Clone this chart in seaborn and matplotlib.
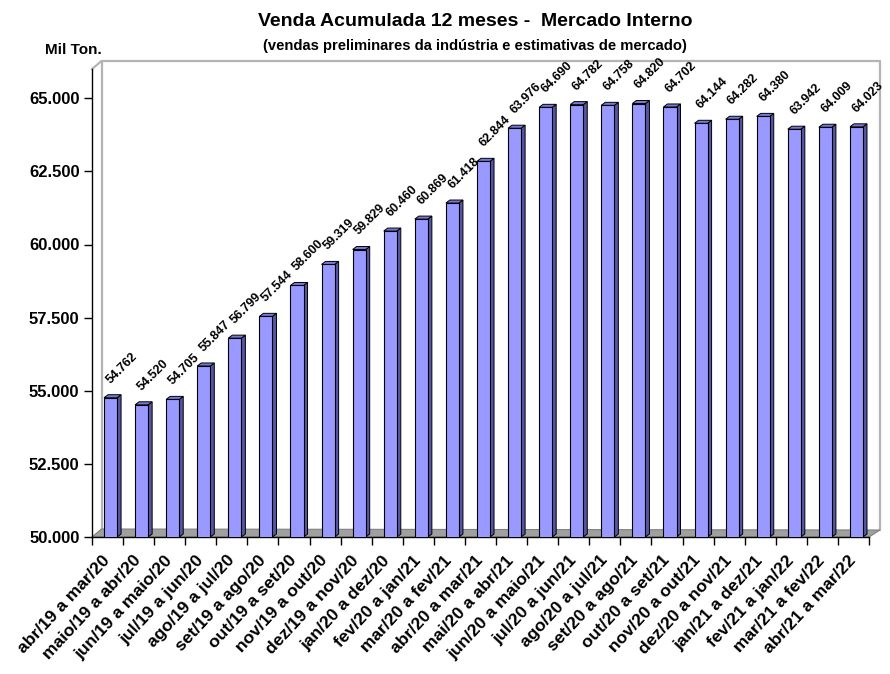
import numpy as np
import pandas as pd
import matplotlib
matplotlib.use("Agg")
import matplotlib.pyplot as plt
import seaborn as sns
from matplotlib.patches import Polygon
from matplotlib.lines import Line2D

periods = [
    "abr/19 a mar/20", "maio/19 a abr/20", "jun/19 a maio/20", "jul/19 a jun/20",
    "ago/19 a jul/20", "set/19 a ago/20", "out/19 a set/20", "nov/19 a out/20",
    "dez/19 a nov/20", "jan/20 a dez/20", "fev/20 a jan/21", "mar/20 a fev/21",
    "abr/20 a mar/21", "mai/20 a abr/21", "jun/20 a maio/21", "jul/20 a jun/21",
    "ago/20 a jul/21", "set/20 a ago/21", "out/20 a set/21", "nov/20 a out/21",
    "dez/20 a nov/21", "jan/21 a dez/21", "fev/21 a jan/22", "mar/21 a fev/22",
    "abr/21 a mar/22",
]
values = [
    54762, 54520, 54705, 55847, 56799, 57544, 58600, 59319, 59829, 60460,
    60869, 61418, 62844, 63976, 64690, 64782, 64758, 64820, 64702, 64144,
    64282, 64380, 63942, 64009, 64023,
]
y_ticks = [50000, 52500, 55000, 57500, 60000, 62500, 65000]

title = "Venda Acumulada 12 meses -  Mercado Interno"
subtitle = "(vendas preliminares da indústria e estimativas de mercado)"
unit = "Mil Ton."

FRONT = "#9999FF"
SIDE = "#5555A6"
TOP = "#7878D6"
FLOOR = "#A0A0A0"
WALL = "#B4B4B4"


def br(v):
    return f"{v:,.0f}".replace(",", ".")


sns.set_theme(style="white")
plt.rcParams['font.family'] = ['Liberation Sans', 'DejaVu Sans']
plt.rcParams['font.weight'] = 'bold'
for k in ["text.color", "axes.labelcolor", "xtick.color", "ytick.color"]:
    plt.rcParams[k] = "black"

W, H = 890, 674
fig = plt.figure(figsize=(W / 100, H / 100), dpi=100)
fig.patch.set_facecolor("white")
x0, x1, ybot, ytop = 92, 869, 537, 69
ax = fig.add_axes([x0 / W, 1 - ybot / H, (x1 - x0) / W, (ybot - ytop) / H])
ax.set_facecolor("none")

df = pd.DataFrame({"periodo": periods, "venda": values})
sns.barplot(data=df, x="periodo", y="venda", color=FRONT, saturation=1,
            width=0.42, edgecolor="black", linewidth=0.8, ax=ax, zorder=4)

n = len(periods)
ymin, ymax = 50000, 66000
ax.set_ylim(ymin, ymax)
ax.set_xlim(-0.5, n - 0.5)
px_x = n / (x1 - x0)
px_y = (ymax - ymin) / (ybot - ytop)

# depth of the box (back wall / floor)
ddx, ddy = 9.5 * px_x, 8 * px_y
# depth of each bar
bdx, bdy = 4 * px_x, 3 * px_y

bars = list(ax.patches)
shift = 3 * px_x
for p in bars:
    p.set_x(p.get_x() + shift)
    bl = p.get_x()
    w = p.get_width()
    v = p.get_height()
    side = Polygon([(bl + w, ymin), (bl + w + bdx, ymin + bdy),
                    (bl + w + bdx, v + bdy), (bl + w, v)], closed=True,
                   facecolor=SIDE, edgecolor="black", linewidth=0.7, zorder=3)
    top = Polygon([(bl, v), (bl + w, v), (bl + w + bdx, v + bdy),
                   (bl + bdx, v + bdy)], closed=True,
                  facecolor=TOP, edgecolor="black", linewidth=0.7, zorder=5)
    ax.add_patch(side)
    ax.add_patch(top)
    ax.text(bl + 8.5 * px_x, v + 12 * px_y, br(v), rotation=45,
            rotation_mode="anchor", ha="left", va="bottom", fontsize=9,
            fontweight="bold", color="black", zorder=6, clip_on=False)

# floor
lx, rx = -0.5, n - 0.5
floor = Polygon([(lx, ymin), (rx, ymin), (rx + ddx + 1.5 * px_x, ymin + ddy - 1 * px_y),
                 (lx + ddx, ymin + ddy)], closed=True, facecolor=FLOOR,
                edgecolor="#808080", linewidth=0.8, zorder=1, clip_on=False)
ax.add_patch(floor)

# back wall outline
wall_kw = dict(color=WALL, linewidth=1.6, zorder=0.5, clip_on=False)
ax.add_line(Line2D([lx + ddx, lx + ddx, rx + ddx + 1.5 * px_x, rx + ddx + 1.5 * px_x],
                   [ymin + ddy, ymax + ddy, ymax + ddy, ymin + ddy - 1 * px_y], **wall_kw))
ax.add_line(Line2D([lx, lx + ddx], [ymax, ymax + ddy], **wall_kw))

# spines
for s in ["top", "right"]:
    ax.spines[s].set_visible(False)
for s in ["left", "bottom"]:
    ax.spines[s].set_color("black")
    ax.spines[s].set_linewidth(1.0)
    ax.spines[s].set_zorder(2)

ax.set_yticks(y_ticks)
ax.set_yticklabels([br(t) for t in y_ticks], fontsize=12, fontweight="bold", color="black")
ax.tick_params(axis="y", length=6, width=1, color="black", direction="out", pad=3, left=True)

ax.set_xticks(np.arange(n))
ax.set_xticks(np.arange(-0.5, n, 1.0), minor=True)
ax.set_xticklabels(periods, rotation=47, ha="right", va="center", rotation_mode="anchor",
                   fontsize=12.6, fontweight="bold", color="black")
ax.tick_params(axis="x", which="major", length=0, pad=15)
ax.tick_params(axis="x", which="minor", length=6, width=1, color="black", direction="out", bottom=True)
ax.set_xlabel("")
ax.set_ylabel("")
ax.grid(False)

fig.text(475 / W, 1 - 22 / H, title, ha="center", va="center", fontsize=14, fontweight="bold", color="black")
fig.text(475 / W, 1 - 46 / H, subtitle, ha="center", va="center", fontsize=10.6, fontweight="bold", color="black")
fig.text(73 / W, 1 - 50 / H, unit, ha="center", va="center", fontsize=11, fontweight="bold", color="black")

fig.savefig("out.png", dpi=100, facecolor="white")
